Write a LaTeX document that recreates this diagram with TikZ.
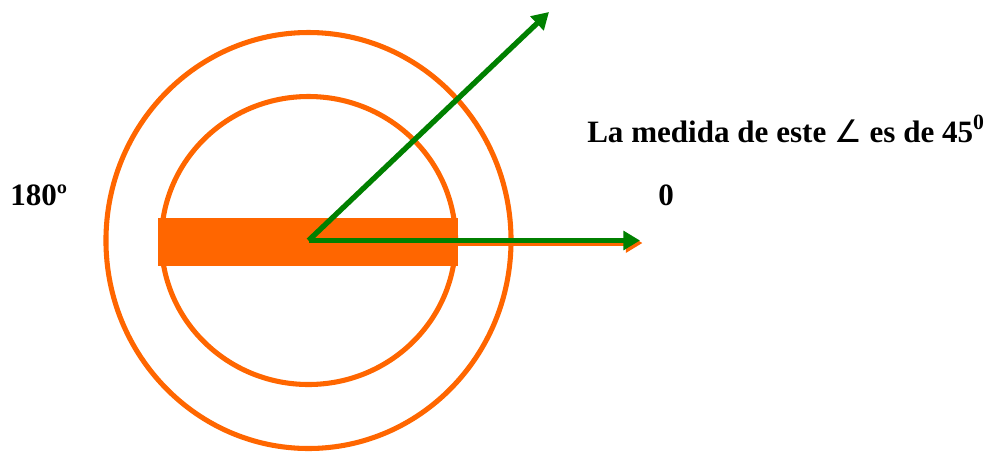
\documentclass[tikz,border=0pt]{standalone}
\usepackage{fontspec}
\setmainfont{Liberation Serif}
\newfontfamily\anglefont{DejaVu Sans}
\usetikzlibrary{arrows.meta}
\definecolor{ringorange}{HTML}{FF6600}
\definecolor{raygreen}{HTML}{008000}

\begin{document}
\begin{tikzpicture}[x=0.75pt, y=-0.75pt,
    ring/.style={draw=ringorange, line width=3.8pt},
    bar/.style={fill=ringorange, draw=none},
    ray/.style={draw=raygreen, line width=4pt, -{Triangle[length=12.5pt,width=14pt]}},
    shadowray/.style={draw=ringorange, line width=4pt, -{Triangle[length=12.5pt,width=14pt]}},
    label/.style={font=\bfseries\fontsize{23.3}{27}\selectfont, inner sep=0pt}]
    \useasboundingbox (0,0) rectangle (989,451);

    % Define the centre and the ends of the rays
    \coordinate (o) at (308.5,240.5);
    \coordinate (oshadow) at (311,243);
    \coordinate (zero) at (640,240.5);
    \coordinate (zeroshadow) at (642.5,243);
    \coordinate (fortyfive) at (549,12);

    % Rings and bar
    \draw[ring] (o) ellipse [x radius=151.9pt, y radius=156pt];
    \draw[ring] (o) ellipse [x radius=110.3pt, y radius=108pt];
    \path[bar] (158,218) rectangle (458,266);

    % Rays of the angle
    \draw[shadowray] (oshadow) -- (zeroshadow);
    \draw[ray] (o) -- (zero);
    \draw[ray] (o) -- (fortyfive);

    % Labels
    \node[label, anchor=base west] (measure) at (587,142) {La medida de este {\anglefont\mdseries ∠} es de 45\textsuperscript{0}};
    \node[label, anchor=base west] (left) at (10,205) {180º};
    \node[label, anchor=base west] (right) at (658,205) {0};
\end{tikzpicture}
\end{document}
